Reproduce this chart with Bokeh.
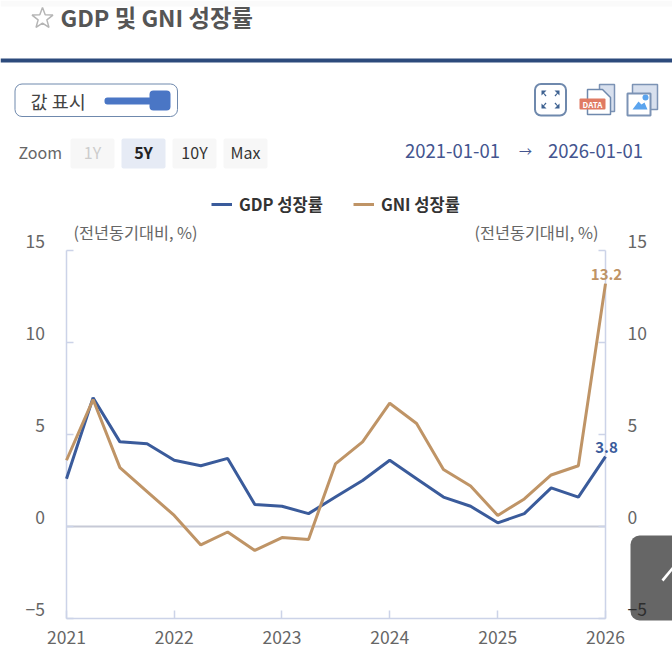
from datetime import datetime
import math
from bokeh.plotting import figure
from bokeh.models import (ColumnDataSource, Range1d, LinearAxis, DatetimeAxis, FixedTicker, DatetimeTickFormatter,
                          Span, Label, LabelSet, BoxAnnotation, PolyAnnotation, Legend, LegendItem)
from bokeh.core.properties import value
from bokeh.embed import file_html
from bokeh.resources import INLINE

quarters = [datetime(y, m, 1) for y in range(2021, 2026) for m in (1, 4, 7, 10)] + [datetime(2026, 1, 1)]
gdp = [2.6, 7.0, 4.6, 4.5, 3.6, 3.3, 3.7, 1.2, 1.1, 0.7, 1.6, 2.5, 3.6, 2.6, 1.6, 1.1, 0.2, 0.7, 2.1, 1.6, 3.8]
gni = [3.6, 6.9, 3.2, 1.9, 0.6, -1.0, -0.3, -1.3, -0.6, -0.7, 3.4, 4.6, 6.7, 5.6, 3.1, 2.2, 0.6, 1.5, 2.8, 3.3, 13.2]
year_ticks = [datetime(y, 1, 1) for y in range(2021, 2027)]
y_ticks = [-5, 0, 5, 10, 15]
y_tick_labels = ["−5", "0", "5", "10", "15"]
range_buttons = ["1Y", "5Y", "10Y", "Max"]

FONT = "Noto Sans CJK KR"
BLUE = "#3a5b9b"
TAN = "#bf9466"
AXIS = "#ccd3e8"
GREY = "#666666"
W, H = 672, 647
BL, BR, BT, BB = 66, 67, 250, 29

p = figure(width=W, height=H, output_backend="svg", toolbar_location=None,
           x_axis_type=None, y_axis_type=None,
           x_range=Range1d(year_ticks[0], year_ticks[-1]), y_range=Range1d(y_ticks[0], y_ticks[-1]),
           min_border_left=BL, min_border_right=BR, min_border_top=BT, min_border_bottom=BB,
           outline_line_color=None, background_fill_color="white", border_fill_color="white")
p.xgrid.visible = False
p.ygrid.visible = False

xax = DatetimeAxis(ticker=FixedTicker(ticks=[d.timestamp() * 1000 for d in year_ticks]),
                   formatter=DatetimeTickFormatter(years="%Y", months="%Y", days="%Y", hours="%Y"),
                   major_tick_in=8, major_tick_out=0, minor_tick_line_color=None,
                   major_label_standoff=12, major_label_text_font=FONT, major_label_text_font_size="17.5px",
                   major_label_text_color=GREY, axis_line_color=AXIS, axis_line_width=1.5,
                   major_tick_line_color=AXIS, major_tick_line_width=1.5)
p.add_layout(xax, "below")
for side in ("left", "right"):
    ax = LinearAxis(ticker=FixedTicker(ticks=y_ticks), major_tick_in=7, major_tick_out=0,
                    minor_tick_line_color=None, major_label_overrides={t: "" for t in y_ticks},
                    major_label_standoff=0,
                    axis_line_color=AXIS, axis_line_width=1.5, major_tick_line_color=AXIS, major_tick_line_width=1.5)
    p.add_layout(ax, side)

p.add_layout(Span(location=0, dimension="width", line_color="#c6c9d6", line_width=2, level="underlay"))

# transparent sheet over the whole page, same scales as the plot, for the series and everything outside the frame
t0, t1 = year_ticks[0].timestamp() * 1000, year_ticks[-1].timestamp() * 1000
px_x = (t1 - t0) / (W - BL - BR)
px_y = (y_ticks[-1] - y_ticks[0]) / (H - BT - BB)
q = figure(width=W, height=H, output_backend="svg", toolbar_location=None, x_axis_type=None, y_axis_type=None,
           x_range=Range1d(t0 - BL * px_x, t1 + BR * px_x),
           y_range=Range1d(y_ticks[0] - BB * px_y, y_ticks[-1] + BT * px_y),
           min_border=0, outline_line_color=None, background_fill_color=None, border_fill_color=None,
           margin=(-H, 0, 0, 0))
q.xgrid.visible = False
q.ygrid.visible = False

x_ms = [d.timestamp() * 1000 for d in quarters]
k1 = q.line(x_ms, gdp, line_color=BLUE, line_width=3)
k2 = q.line(x_ms, gni, line_color=TAN, line_width=3)
legend = Legend(items=[LegendItem(label="GDP 성장률", renderers=[k1]), LegendItem(label="GNI 성장률", renderers=[k2])],
                orientation="horizontal", location=(211, H - 216), background_fill_alpha=0, border_line_color=None,
                label_text_font=FONT, label_text_font_style="bold", label_text_font_size="16.5px",
                label_text_color="#333333", glyph_width=21, glyph_height=14, label_standoff=7, spacing=30,
                padding=0, margin=0)
q.add_layout(legend, "center")


def box(x0, y0, x1, y1, fill=None, line=None, lw=1.0, radius=0):
    q.add_layout(BoxAnnotation(left=x0, right=x1, top=y0, bottom=y1,
                               left_units="canvas", right_units="canvas", top_units="canvas", bottom_units="canvas",
                               fill_color=fill, fill_alpha=1 if fill else 0,
                               line_color=line, line_alpha=1 if line else 0, line_width=lw, border_radius=radius))


def poly(xs, ys, fill=None, line=None, lw=1.0):
    q.add_layout(PolyAnnotation(xs=list(xs), ys=list(ys), xs_units="canvas", ys_units="canvas",
                                fill_color=fill, fill_alpha=1 if fill else 0,
                                line_color=line, line_alpha=1 if line else 0, line_width=lw))


def text(x, y, s, size, color, align="left", bold=False):
    q.add_layout(Label(x=x, y=y, x_units="canvas", y_units="canvas", text=s, text_font=FONT,
                       text_font_size=f"{size}px", text_color=color, text_align=align, text_baseline="middle",
                       text_font_style="bold" if bold else "normal"))


# header
box(0, 0, 672, 6, fill="#fafafa")
cx, cy = 42, 18
sx = [cx + (11 if i % 2 == 0 else 4.6) * math.sin(i * math.pi / 5) for i in range(10)]
sy = [cy - (11 if i % 2 == 0 else 4.6) * math.cos(i * math.pi / 5) for i in range(10)]
poly(sx, sy, fill="white", line="#b5b5b5", lw=1.5)
text(60, 16, "GDP 및 GNI 성장률", 23.3, "#555555", bold=True)
box(0, 58, 672, 62, fill="#2c4a7c")

# toggle
box(14.5, 83.5, 177, 116, fill="white", line="#6f89ad", lw=1, radius=7)
text(30, 100, "값 표시", 18.5, "#444444")
box(104, 97, 152, 104, fill="#4a76c5", radius=3)
box(149, 90, 170, 110, fill="#4a76c5", radius=4)

# icons
box(534.5, 83.5, 565.5, 115, fill="white", line="#6f89ad", lw=2, radius=6)
for dx, dy in ((-1, -1), (1, -1), (-1, 1), (1, 1)):
    ax0, ay0 = 550 + dx * 9, 99 + dy * 9
    poly([ax0, ax0 - dx * 5, ax0], [ay0, ay0, ay0 - dy * 5], fill="#3f6291")
    poly([ax0 - dx * 2, ax0 - dx * 5, ax0 - dx * 5 + dx * 1, ax0 - dx * 1],
         [ay0 - dy * 2, ay0 - dy * 5, ay0 - dy * 6, ay0 - dy * 2], fill="#3f6291")
box(599, 84, 614, 111, fill="#d8e0ee", line="#7c93b5", lw=1.5)
poly([587, 602, 610, 610, 587], [89, 89, 97, 114, 114], fill="white", line="#6f89ad", lw=1.5)
box(579, 98, 605, 109, fill="#e07b63", radius=1)
text(592, 103.5, "DATA", 8, "white", align="center", bold=True)
box(632, 84, 657, 109, fill="#d8e0ee", line="#7c93b5", lw=1.5)
box(627, 93, 650, 115, fill="white", line="#7c93b5", lw=2)
box(642, 94, 648, 100, fill="#5ba4ee", radius=3)
poly([632, 638, 641, 644, 647], [109, 101, 104, 102, 109], fill="#5ba4ee")

# range selector row
text(18, 151, "Zoom", 16, GREY)
btn_left = [70, 121, 172, 223]
btn_fill = ["#f7f7f7", "#e6ebf5", "#f7f7f7", "#f7f7f7"]
btn_col = ["#cccccc", "#222222", "#333333", "#333333"]
for lbl, x0, f, c in zip(range_buttons, btn_left, btn_fill, btn_col):
    box(x0, 138, x0 + 44, 168, fill=f, radius=2)
    text(x0 + 22, 151, lbl, 16, c, align="center", bold=(lbl == "5Y"))

text(452, 150, "2021-01-01", 18.5, "#44558f", align="center")
text(525, 150, "→", 13, "#44558f", align="center")
text(595, 150, "2026-01-01", 18.5, "#44558f", align="center")

text(73, 231, "(전년동기대비, %)", 16.3, GREY)
text(598, 231, "(전년동기대비, %)", 16.3, GREY, align="right")

# scroll-to-top button
box(630, 535, 690, 620, fill="#666666", radius=9)
poly([661, 672, 672, 663], [579, 566, 570, 581], fill="white")

# y tick labels, shifted above their ticks; the right −5 lies on the dark button
for xval, off, al, cols in ((t0, -21.5, "right", [GREY] * 5), (t1, 22, "left", ["#2e2e2e"] + [GREY] * 4)):
    src = ColumnDataSource(dict(x=[xval] * len(y_ticks), y=y_ticks, t=y_tick_labels, c=cols))
    q.add_layout(LabelSet(x="x", y="y", text="t", source=src, x_offset=off, y_offset=9,
                          text_align=al, text_baseline="middle", text_font=value(FONT),
                          text_font_size=value("17.5px"), text_color="c"))

# end-of-series value labels
for series, col in ((gdp, BLUE), (gni, TAN)):
    src = ColumnDataSource(dict(x=[t1], y=[series[-1]], t=[f"{series[-1]:.1f}"]))
    q.add_layout(LabelSet(x="x", y="y", text="t", source=src, x_offset=1, y_offset=9,
                          text_align="center", text_baseline="middle", text_font=value(FONT),
                          text_font_style=value("bold"), text_font_size=value("15px"), text_color=col))

open("out.html", "w").write(file_html([p, q], INLINE))
